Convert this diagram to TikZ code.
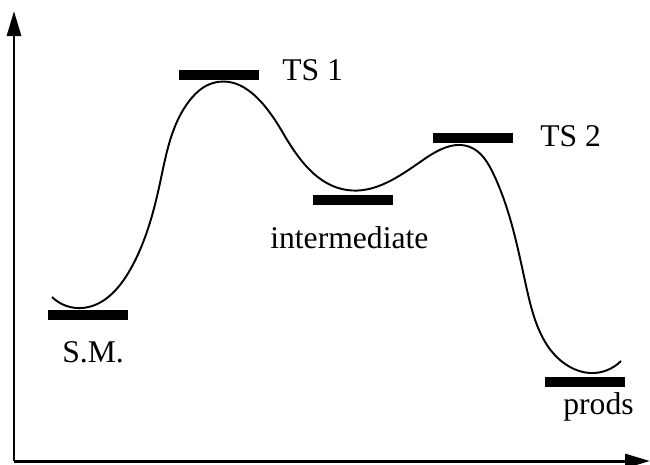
\documentclass[tikz,border=0pt]{standalone}
\usepackage{fontspec}
\setmainfont{Liberation Serif}
\usepackage{tikz}
\usetikzlibrary{arrows.meta,positioning,hobby}

\begin{document}
\begin{tikzpicture}[
    x=0.02cm, y=-0.02cm,
    font=\fontsize{18}{20}\selectfont,
    level/.style={fill=black, inner sep=0pt, minimum width=1.6cm, minimum height=0.2cm},
    lbl/.style={anchor=base west, inner sep=0pt},
    axis/.style={line width=1.7pt, -{Triangle[length=0.5cm, width=0.28cm]}},
  ]
  \useasboundingbox (0,0) rectangle (650,464);

  % --- axes ---
  \coordinate (origin) at (14,461);
  \coordinate (ytop) at (14,11);
  \coordinate (xend) at (650,461);
  \draw[axis] (origin) -- (ytop);
  \draw[axis] (origin) -- (xend);

  % --- energy levels ---
  \node[level] (sm)  at (88,315) {};
  \node[level] (ts1) at (219,75) {};
  \node[level] (int) at (353,200) {};
  \node[level] (ts2) at (473,138) {};
  \node[level] (pr)  at (585,382) {};

  % --- labels ---
  \node[lbl] (smlab)  at (62,362) {S.M.};
  \node[lbl] (ts1lab) at (282,80) {TS 1};
  \node[lbl] (intlab) at (270,248) {intermediate};
  \node[lbl] (ts2lab) at (540,146) {TS 2};
  \node[lbl] (prlab)  at (563,414) {prods};

  % --- reaction profile ---
  \draw[line width=1.1pt, use Hobby shortcut]
    (52,297) .. (82,308) .. (130,270) .. (160,183) .. (190,100) .. (213,83)
    .. (283,133) .. (347,190) .. (423,160) .. (470,147) .. (493,173)
    .. (527,290) .. (570,367) .. (590,373) .. (621,361);
\end{tikzpicture}
\end{document}
